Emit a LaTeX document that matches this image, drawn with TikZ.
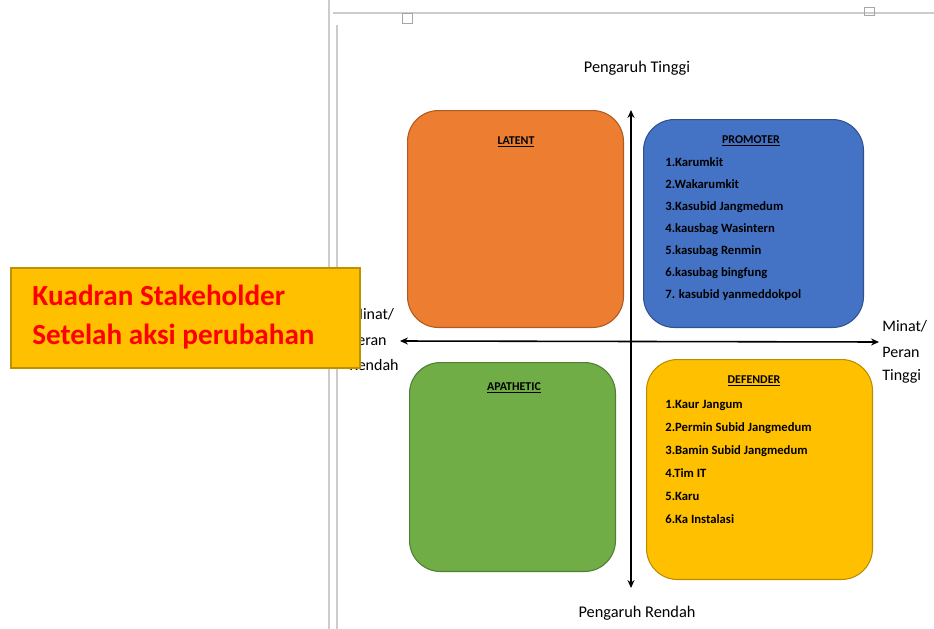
\documentclass[tikz,border=0pt]{standalone}
\usepackage{fontspec}
\setmainfont{Carlito}
\usetikzlibrary{arrows.meta}
\definecolor{latentfill}{HTML}{ED7D31}
\definecolor{latentline}{HTML}{AE5A21}
\definecolor{promoterfill}{HTML}{4472C4}
\definecolor{promoterline}{HTML}{2F528F}
\definecolor{apatheticfill}{HTML}{70AD47}
\definecolor{apatheticline}{HTML}{507E32}
\definecolor{defenderfill}{HTML}{FFC000}
\definecolor{defenderline}{HTML}{BC8C00}
\definecolor{calloutline}{HTML}{BF9000}
\definecolor{calloutred}{HTML}{FF0000}
\tikzset{
  quad/.style={draw, line width=0.6pt, rounded corners=0.62cm, anchor=north west, inner sep=0pt},
  quadtitle/.style={anchor=base, inner sep=0pt, font=\fontsize{6.8}{8}\selectfont\bfseries},
  item/.style={anchor=base west, inner sep=0pt, font=\fontsize{7.2}{9}\selectfont\bfseries},
  axislabel/.style={anchor=base, inner sep=0pt, font=\fontsize{9.3}{11}\selectfont},
  sidelabel/.style={anchor=base west, inner sep=0pt, font=\fontsize{9.1}{11}\selectfont},
  axis/.style={line width=0.9pt, {Stealth[length=4.5pt,width=4pt]}-{Stealth[length=4.5pt,width=4pt]}},
  pageline/.style={black!20, line width=0.6pt}
}
\begin{document}
\begin{tikzpicture}[x=0.02cm,y=-0.02cm]
\useasboundingbox (0,0) rectangle (934,629);

% page of the document
\draw[pageline] (333,13) -- (934,13);
\draw[pageline] (329,0) -- (329,629);
\draw[pageline] (337,25) -- (337,629);
\draw[black!35, line width=0.5pt] (402,13) rectangle (412,23);
\draw[black!35, line width=0.5pt] (864,7) rectangle (874,15);

% quadrants
\node[quad, fill=latentfill, draw=latentline, minimum width=4.32cm, minimum height=4.34cm] (latent) at (407,110) {};
\node[quad, fill=promoterfill, draw=promoterline, minimum width=4.4cm, minimum height=4.16cm] (promoter) at (643,119) {};
\node[quad, fill=apatheticfill, draw=apatheticline, minimum width=4.12cm, minimum height=4.18cm] (apathetic) at (409,362) {};
\node[quad, fill=defenderfill, draw=defenderline, minimum width=4.52cm, minimum height=4.4cm] (defender) at (646,359) {};

\node[quadtitle] (latent_title) at (516,144) {\underline{LATENT}};
\node[quadtitle] (promoter_title) at (751,143) {\underline{PROMOTER}};
\node[quadtitle] (apathetic_title) at (514,390) {\underline{APATHETIC}};
\node[quadtitle] (defender_title) at (754,383) {\underline{DEFENDER}};

\node[item] (p1) at (665,166) {1.Karumkit};
\node[item] (p2) at (665,188) {2.Wakarumkit};
\node[item] (p3) at (665,210) {3.Kasubid Jangmedum};
\node[item] (p4) at (665,232) {4.kausbag Wasintern};
\node[item] (p5) at (665,254) {5.kasubag Renmin};
\node[item] (p6) at (665,276) {6.kasubag bingfung};
\node[item] (p7) at (665,298) {7. kasubid yanmeddokpol};

\node[item] (d1) at (665,408) {1.Kaur Jangum};
\node[item] (d2) at (665,431) {2.Permin Subid Jangmedum};
\node[item] (d3) at (665,454) {3.Bamin Subid Jangmedum};
\node[item] (d4) at (665,477) {4.Tim IT};
\node[item] (d5) at (665,500) {5.Karu};
\node[item] (d6) at (665,523) {6.Ka Instalasi};

% axes
\coordinate (top) at (631,110);
\coordinate (bottom) at (631,588);
\coordinate (left) at (400,341);
\coordinate (right) at (879,342);
\draw[axis] (bottom) -- (top);
\draw[axis] (left) -- (right);

\node[axislabel] (high) at (637,72) {Pengaruh Tinggi};
\node[axislabel] (low) at (637,617) {Pengaruh Rendah};

\node[sidelabel] (right_1) at (882,331) {Minat/};
\node[sidelabel] (right_2) at (882,357) {Peran};
\node[sidelabel] (right_3) at (882,380) {Tinggi};
\node[sidelabel] (left_1) at (349,319) {Minat/};
\node[sidelabel] (left_2) at (349,345) {Peran};
\node[sidelabel] (left_3) at (349,370) {Rendah};

% callout
\node[draw=calloutline, fill=defenderfill, line width=1.2pt, anchor=north west, minimum width=6.98cm, minimum height=2cm, inner sep=0pt] (callout) at (10,267) {};
\node[anchor=base west, inner sep=0pt, text=calloutred, font=\fontsize{16.6}{20}\selectfont\bfseries] (callout_1) at (32,305) {Kuadran Stakeholder};
\node[anchor=base west, inner sep=0pt, text=calloutred, font=\fontsize{16.6}{20}\selectfont\bfseries] (callout_2) at (32,344) {Setelah aksi perubahan};
\end{tikzpicture}
\end{document}
